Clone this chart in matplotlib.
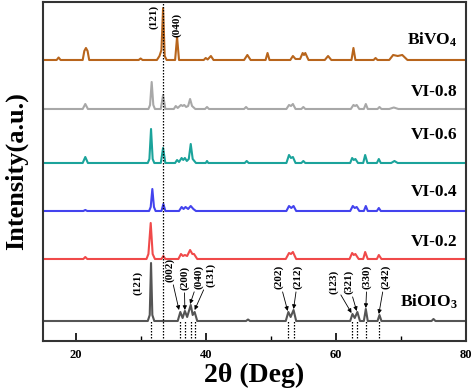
import matplotlib
matplotlib.use('Agg')
import matplotlib.pyplot as plt

plt.rcParams['font.family'] = ['Liberation Serif', 'DejaVu Serif']
plt.rcParams['font.weight'] = 'bold'
plt.rcParams['mathtext.fontset'] = 'custom'
plt.rcParams['mathtext.rm'] = 'Liberation Serif:bold'
plt.rcParams['mathtext.bf'] = 'Liberation Serif:bold'
plt.rcParams['mathtext.it'] = 'Liberation Serif:bold'
plt.rcParams['mathtext.default'] = 'bf'

# --- data: peak vertices (2θ in deg, intensity above each trace's baseline, a.u.) ---
bioio3_x = [15, 31.1, 31.4, 31.6, 31.8, 32.1, 35.7, 36.1, 36.45, 36.8, 37.15, 37.7, 38.0, 38.3, 38.7,
            46.2, 46.5, 46.8, 52.3, 52.7, 53.05, 53.5, 53.9, 62.2, 62.55, 62.9, 63.3, 63.7,
            64.3, 64.6, 64.9, 66.4, 66.7, 67.0, 74.7, 75.0, 75.3, 80]
bioio3_y = [0, 0, 6, 58, 6, 0, 0, 9, 3, 10, 4, 16, 6, 9, 0,
            0, 1.5, 0, 0, 9, 4, 11, 0, 0, 7, 3, 9, 0,
            0, 12, 0, 0, 6, 0, 0, 2, 0, 0]

vi02_x = [15, 21.2, 21.5, 21.8, 30.9, 31.2, 31.55, 31.85, 32.2, 33.2, 33.5, 33.8, 35.8, 36.2, 36.5,
          36.8, 37.15, 37.6, 37.95, 38.2, 38.7, 52.3, 52.8, 53.1, 53.4, 53.9, 62.1, 62.5, 62.75,
          63.0, 63.5, 64.2, 64.5, 64.9, 66.3, 66.6, 67.0, 80]
vi02_y = [0, 0, 2, 0, 0, 5, 36, 5, 0, 0, 3, 0, 0, 5, 3,
          4, 3, 9, 5, 5, 0, 0, 6, 5, 7, 0, 0, 6, 4,
          5, 0, 0, 7, 0, 0, 4, 0, 0]

vi04_x = [15, 21.2, 21.5, 21.8, 31.3, 31.55, 31.8, 32.05, 32.3, 33.2, 33.5, 33.8, 35.9, 36.3, 36.6,
          36.9, 37.3, 37.7, 38.1, 38.5, 52.4, 52.8, 53.15, 53.5, 53.9, 62.2, 62.6, 62.9, 63.2,
          63.6, 64.3, 64.6, 64.9, 66.3, 66.6, 66.9, 80]
vi04_y = [0, 0, 1, 0, 0, 4, 22, 4, 0, 0, 7, 0, 0, 4, 2,
          4, 2, 5, 2, 0, 0, 5, 3, 5, 0, 0, 5, 3, 4,
          0, 0, 5, 0, 0, 3, 0, 0]

vi06_x = [15, 21.1, 21.5, 21.9, 31.1, 31.35, 31.6, 31.85, 32.1, 33.1, 33.45, 33.8, 35.3, 35.6, 35.9,
          36.3, 36.55, 36.8, 37.1, 37.4, 37.7, 38.0, 38.5, 40.0, 40.2, 40.4, 46.0, 46.3, 46.6,
          52.4, 52.8, 53.1, 53.4, 53.8, 54.7, 55.0, 55.3, 62.2, 62.5, 62.75, 63.0, 63.4,
          64.2, 64.5, 64.85, 66.3, 66.6, 66.9, 68.5, 69.0, 69.5, 80]
vi06_y = [0, 0, 6, 0, 0, 4, 34, 4, 0, 0, 15, 0, 0, 3, 1,
          5, 3, 5, 2, 4, 19, 4, 0, 0, 2, 0, 0, 2, 0,
          0, 8, 5, 6, 0, 0, 2, 0, 0, 5, 3, 4, 0,
          0, 8, 0, 0, 4, 0, 0, 2, 0, 0]

vi08_x = [15, 21.1, 21.5, 21.9, 31.2, 31.45, 31.7, 31.95, 32.2, 33.1, 33.45, 33.8, 35.1, 35.4, 35.7,
          36.2, 36.45, 36.7, 37.0, 37.3, 37.6, 37.9, 38.4, 39.9, 40.2, 40.5, 45.9, 46.2, 46.5,
          52.4, 52.8, 53.1, 53.4, 53.8, 54.7, 55.0, 55.3, 62.3, 62.7, 62.95, 63.2, 63.6,
          64.3, 64.6, 64.9, 66.4, 66.7, 67.0, 68.2, 68.9, 69.6, 80]
vi08_y = [0, 0, 5, 0, 0, 4, 27, 4, 0, 0, 14, 0, 0, 3, 1,
          4, 3, 4, 2, 3, 10, 3, 0, 0, 2, 0, 0, 2, 0,
          0, 4, 3, 5, 0, 0, 2, 0, 0, 4, 3, 4, 0,
          0, 5, 0, 0, 2, 0, 0, 1.5, 0, 0]

bivo4_x = [15, 17.1, 17.4, 17.7, 21.1, 21.35, 21.6, 21.85, 22.1, 29.7, 30.0, 30.3, 32.5, 32.9, 33.2,
           33.45, 33.7, 34.0, 35.3, 35.6, 35.9, 39.7, 40.0, 40.3, 40.8, 41.2, 45.9, 46.4, 46.9,
           49.2, 49.5, 49.8, 53.0, 53.4, 53.8, 54.5, 54.9, 55.1, 55.3, 55.8, 58.3, 58.8, 59.3,
           62.4, 62.7, 63.0, 65.8, 66.1, 66.4, 68.2, 68.8, 69.5, 70.2, 71.0, 80]
bivo4_y = [0, 0, 2.5, 0, 0, 9, 12, 9, 0, 0, 1.5, 0, 0, 4, 10,
           52, 4, 0, 0, 23, 0, 0, 2, 0.5, 4, 0, 0, 5, 0,
           0, 7, 0, 0, 4, 1, 1, 7, 5, 7, 0, 0, 4, 0,
           0, 12, 0, 0, 2, 0, 0, 5, 4, 5, 0, 0]

names = ['BiOIO$_3$', 'VI-0.2', 'VI-0.4', 'VI-0.6', 'VI-0.8', 'BiVO$_4$']
series_x = [bioio3_x, vi02_x, vi04_x, vi06_x, vi08_x, bivo4_x]
series_y = [bioio3_y, vi02_y, vi04_y, vi06_y, vi08_y, bivo4_y]

bioio3_peaks = [31.6, 36.1, 36.8, 37.7, 38.3, 52.7, 53.5, 62.55, 63.3, 64.6, 66.7]
bioio3_hkl = ['(121)', '(002)', '(200)', '(040)', '(131)', '(202)', '(212)', '(123)', '(321)', '(330)', '(242)']
bivo4_peaks = [33.45, 35.6]
bivo4_hkl = ['(121)', '(040)']

# --- layout / style ---
offsets = [20, 82, 130, 178, 232, 281]
colors = ['#555555', '#f04a4a', '#4343ee', '#1ba39b', '#a8a8a8', '#b8651c']
label_y = [39, 99, 149, 206, 249, 301]
# label text centres (x, y) and arrow tips for BiOIO3 indices
hkl_text = [(29.6, 58), (34.5, 71), (36.7, 63), (39.0, 64), (40.7, 66),
            (51.2, 64), (54.2, 64), (59.6, 59), (61.9, 59), (64.8, 64), (67.6, 64)]
hkl_tip = [None, (35.9, 31), (36.8, 31), (37.6, 37), (38.3, 31),
           (52.6, 30), (53.5, 32), (62.4, 28), (63.2, 30), (64.6, 33), (66.6, 27)]
bivo4_text = [(32.05, 324), (35.6, 316)]

fig = plt.figure(figsize=(4.74, 3.89), dpi=100)
ax = fig.add_axes([0.0907, 0.1234, 0.8925, 0.8715])

for xs, ys, off, c in zip(series_x, series_y, offsets, colors):
    ax.plot(xs, [v + off for v in ys], color=c, lw=1.5, solid_joinstyle='round')

for name, ly in zip(names, label_y):
    ax.text(78.7, ly, name, ha='right', va='center', fontsize=12.5, fontweight='bold')

# reference lines
ax.plot([33.5, 33.5], [0, 339], color='k', lw=0.9, ls=(0, (1.2, 1.2)))
for p in bioio3_peaks:
    ax.plot([p, p], [0, offsets[0]], color='k', lw=0.9, ls=(0, (1.2, 1.2)))

for lab, (tx, ty), tip in zip(bioio3_hkl, hkl_text, hkl_tip):
    if tip is None:
        ax.text(tx, ty, lab, rotation=90, ha='center', va='center', fontsize=8, fontweight='bold')
    else:
        ax.annotate(lab, xy=tip, xytext=(tx, ty), rotation=90, ha='center', va='center',
                    fontsize=8, fontweight='bold',
                    arrowprops=dict(arrowstyle='-|>', color='k', lw=0.6, mutation_scale=6,
                                    shrinkA=0, shrinkB=0))
for lab, (tx, ty) in zip(bivo4_hkl, bivo4_text):
    ax.text(tx, ty, lab, rotation=90, ha='center', va='center', fontsize=8, fontweight='bold')

ax.set_xlim(15, 80)
ax.set_ylim(0, 339)
ax.set_xticks([20, 40, 60, 80])
ax.set_xticks([30, 50, 70], minor=True)
ax.set_yticks([])
ax.tick_params(axis='x', which='major', direction='in', length=6, width=1.2, labelsize=9, pad=6)
ax.tick_params(axis='x', which='minor', direction='in', length=3.5, width=1.0)
for lbl in ax.get_xticklabels():
    lbl.set_fontweight('bold')
for sp in ax.spines.values():
    sp.set_linewidth(1.5)
    sp.set_color('#333333')

ax.set_xlabel('2θ (Deg)', fontsize=20, fontweight='bold', labelpad=1)
ax.set_ylabel('Intensity(a.u.)', fontsize=19, fontweight='bold', labelpad=11)

fig.savefig('out.png', dpi=100)
